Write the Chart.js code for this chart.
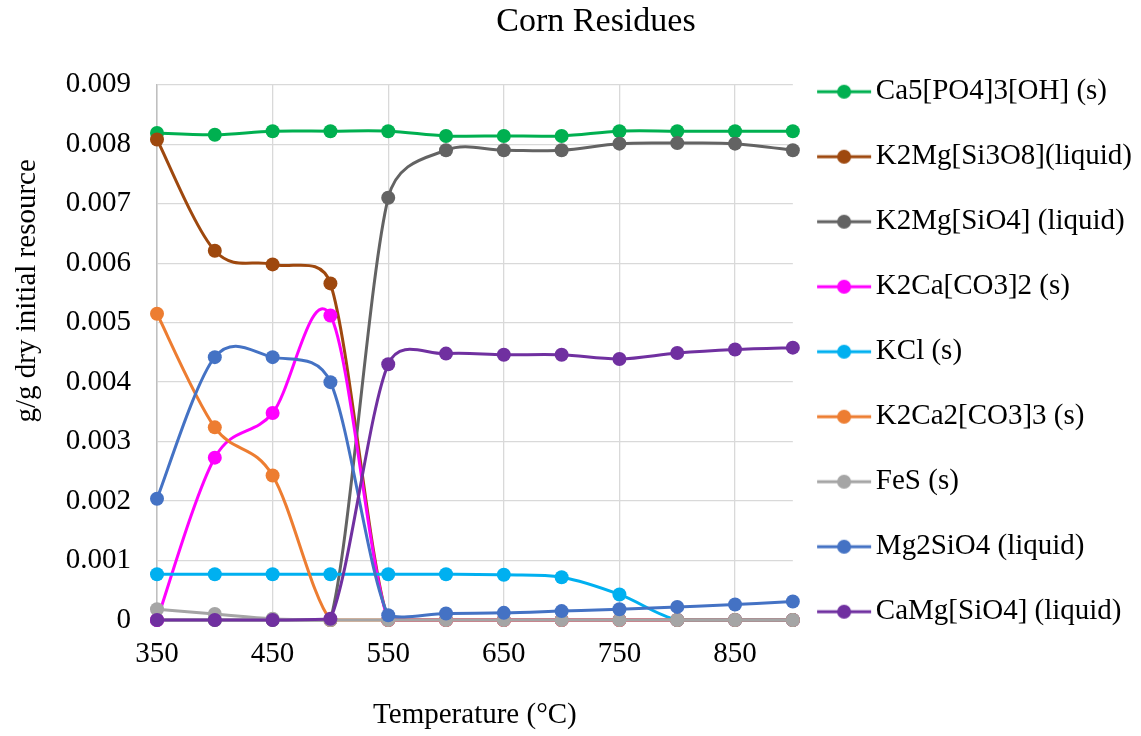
<!DOCTYPE html>
<html>
<head>
<meta charset="utf-8">
<title>Corn Residues</title>
<script src="https://cdn.jsdelivr.net/npm/chart.js@4.4.1/dist/chart.umd.min.js"></script>
<style>
  body { margin: 0; background: #fff; }
  canvas { display: block; }
</style>
</head>
<body>
<canvas id="cornChart" width="1141" height="736"></canvas>
<script>
// Temperatures (°C) and axis ticks
const temperatures = [350, 400, 450, 500, 550, 600, 650, 700, 750, 800, 850, 900];
const xTickValues = [350, 450, 550, 650, 750, 850];
const yTickValues = [0, 0.001, 0.002, 0.003, 0.004, 0.005, 0.006, 0.007, 0.008, 0.009];

// Series (g/g dry initial resource)
const seriesNames = [
    'Ca5[PO4]3[OH] (s)',
    'K2Mg[Si3O8](liquid)',
    'K2Mg[SiO4] (liquid)',
    'K2Ca[CO3]2 (s)',
    'KCl (s)',
    'K2Ca2[CO3]3 (s)',
    'FeS (s)',
    'Mg2SiO4 (liquid)',
    'CaMg[SiO4] (liquid)'
];
const seriesColors = ['#00B050', '#9E480E', '#636363', '#FF00FF', '#00B0F0', '#ED7D31', '#A5A5A5', '#4472C4', '#7030A0'];

const ca5Po43Oh = [0.00819, 0.00816, 0.00822, 0.00822, 0.00822, 0.00814, 0.00814, 0.00814, 0.00822, 0.00822, 0.00822, 0.00822];
const k2MgSi3O8 = [0.00808, 0.00621, 0.00598, 0.00566, 0, 0, 0, 0, 0, 0, 0, 0];
const k2MgSiO4 = [0, 0, 0, 0, 0.00710, 0.00790, 0.00790, 0.00790, 0.00801, 0.00802, 0.00801, 0.00790];
const k2CaCo32 = [0, 0.00273, 0.00348, 0.00512, 0, 0, 0, 0, 0, 0, 0, 0];
const kcl = [0.00077, 0.00077, 0.00077, 0.00077, 0.00077, 0.00077, 0.00076, 0.00072, 0.00043, 0, 0, 0];
const k2Ca2Co33 = [0.00515, 0.00324, 0.00243, 0, 0, 0, 0, 0, 0, 0, 0, 0];
const fes = [0.00018, 0.00010, 0.00002, 0, 0, 0, 0, 0, 0, 0, 0, 0];
const mg2SiO4 = [0.00204, 0.00442, 0.00442, 0.00400, 0.00008, 0.00011, 0.00012, 0.00015, 0.00018, 0.00022, 0.00026, 0.00031];
const caMgSiO4 = [0, 0, 0, 0.00002, 0.00430, 0.00448, 0.00446, 0.00446, 0.00439, 0.00449, 0.00455, 0.00458];

const seriesValues = [ca5Po43Oh, k2MgSi3O8, k2MgSiO4, k2CaCo32, kcl, k2Ca2Co33, fes, mg2SiO4, caMgSiO4];

Chart.defaults.font.family = '"Liberation Serif", "Times New Roman", serif';
Chart.defaults.color = '#000';

// line + marker symbol for the legend
function legendSymbol(color) {
    const c = document.createElement('canvas');
    c.width = 58;
    c.height = 18;
    const g = c.getContext('2d');
    g.strokeStyle = color;
    g.lineWidth = 3;
    g.beginPath();
    g.moveTo(1, 9);
    g.lineTo(55, 9);
    g.stroke();
    g.fillStyle = color;
    g.beginPath();
    g.arc(28, 9, 7, 0, Math.PI * 2);
    g.fill();
    return c;
}
const legendSymbols = seriesColors.map(legendSymbol);

// Excel-like smoothing: Catmull-Rom arms, each capped at half its segment,
// control points kept inside the plot area
const excelSmoothing = {
    id: 'excelSmoothing',
    afterDatasetUpdate(chart, args) {
        const pts = args.meta.data;
        const area = chart.chartArea;
        const clampY = y => Math.min(Math.max(y, area.top), area.bottom);
        for (let i = 0; i < pts.length; i++) {
            const p = pts[i];
            const prev = pts[Math.max(i - 1, 0)];
            const next = pts[Math.min(i + 1, pts.length - 1)];
            const dx = (next.x - prev.x) / 6;
            const dy = (next.y - prev.y) / 6;
            const arm = Math.hypot(dx, dy) || 1;
            const kPrev = Math.min(1, 0.5 * Math.hypot(p.x - prev.x, p.y - prev.y) / arm);
            const kNext = Math.min(1, 0.5 * Math.hypot(next.x - p.x, next.y - p.y) / arm);
            p.cp1x = p.x - dx * kPrev;
            p.cp1y = clampY(p.y - dy * kPrev);
            p.cp2x = p.x + dx * kNext;
            p.cp2y = clampY(p.y + dy * kNext);
        }
        args.meta.dataset._pointsUpdated = true;
    }
};

// vertical axis title, placed as in the original
const yAxisTitle = {
    id: 'yAxisTitle',
    afterDraw(chart) {
        const { ctx, chartArea } = chart;
        ctx.save();
        ctx.translate(35, chartArea.top + (chartArea.bottom - chartArea.top) * 0.385);
        ctx.rotate(-Math.PI / 2);
        ctx.font = '29px "Liberation Serif", "Times New Roman", serif';
        ctx.fillStyle = '#000';
        ctx.textAlign = 'center';
        ctx.textBaseline = 'alphabetic';
        ctx.fillText('g/g dry initial resource', 0, 0);
        ctx.restore();
    }
};

new Chart(document.getElementById('cornChart'), {
    type: 'line',
    data: {
        datasets: seriesNames.map((name, i) => ({
            label: name,
            data: temperatures.map((t, j) => ({ x: t, y: seriesValues[i][j] })),
            borderColor: seriesColors[i],
            backgroundColor: seriesColors[i],
            pointBackgroundColor: seriesColors[i],
            pointBorderWidth: 0,
            pointRadius: 7,
            borderWidth: 3,
            tension: 0.4,
            clip: false,
            order: seriesNames.length - i
        }))
    },
    options: {
        responsive: false,
        animation: false,
        layout: {
            padding: { left: 50, right: -1, top: 0, bottom: 32.6 }
        },
        plugins: {
            title: {
                display: true,
                text: 'Corn Residues',
                color: '#000',
                font: { size: 34, weight: 'normal' },
                padding: { top: 2, bottom: 42 }
            },
            legend: {
                position: 'right',
                maxWidth: 400,
                labels: {
                    color: '#000',
                    font: { size: 29 },
                    padding: 36,
                    usePointStyle: true,
                    pointStyleWidth: 32.5,
                    sort: (a, b) => a.datasetIndex - b.datasetIndex,
                    generateLabels: chart => Chart.defaults.plugins.legend.labels.generateLabels(chart)
                        .map(item => Object.assign(item, { pointStyle: legendSymbols[item.datasetIndex] }))
                }
            },
            tooltip: { enabled: false }
        },
        scales: {
            x: {
                type: 'linear',
                min: 350,
                max: 900,
                afterBuildTicks: scale => { scale.ticks = xTickValues.map(v => ({ value: v })); },
                afterFit: scale => { scale.height = 83.4; },
                grid: { color: '#D9D9D9', lineWidth: 1.3, drawTicks: false },
                border: { color: '#BFBFBF', width: 1.5 },
                ticks: { color: '#000', font: { size: 29 }, padding: 16.6, maxRotation: 0 },
                title: {
                    display: true,
                    text: 'Temperature (°C)',
                    color: '#000',
                    font: { size: 29 },
                    padding: { top: 33, bottom: -29 }
                }
            },
            y: {
                min: 0,
                max: 0.009,
                afterBuildTicks: scale => { scale.ticks = yTickValues.map(v => ({ value: v })); },
                afterFit: scale => { scale.width = 107; },
                grid: { color: '#D9D9D9', lineWidth: 1.3, drawTicks: false },
                border: { color: '#BFBFBF', width: 1.5 },
                ticks: {
                    color: '#000',
                    font: { size: 29 },
                    padding: 26,
                    callback: v => v === 0 ? '0' : v.toFixed(3)
                }
            }
        }
    },
    plugins: [excelSmoothing, yAxisTitle]
});
</script>
</body>
</html>
